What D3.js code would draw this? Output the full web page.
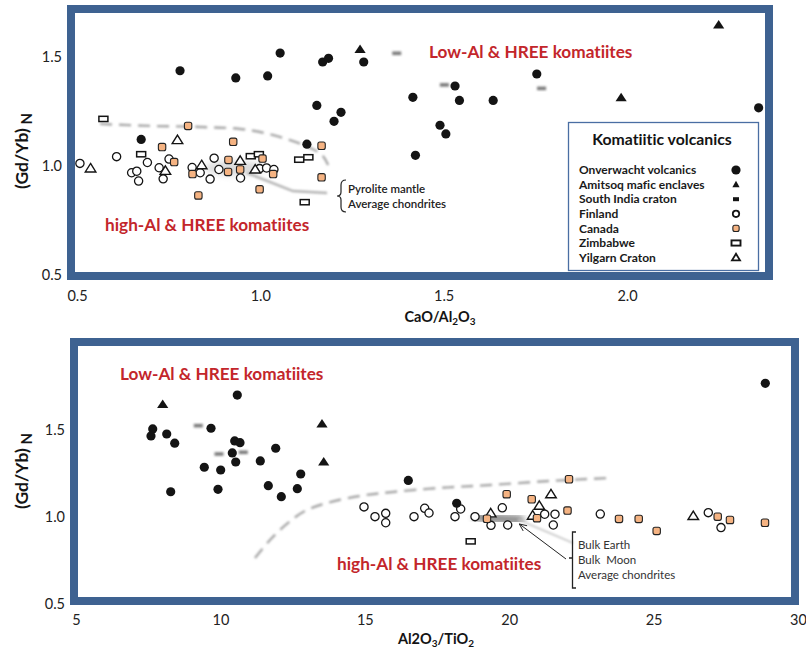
<!DOCTYPE html>
<html><head><meta charset="utf-8">
<script src="https://cdn.jsdelivr.net/npm/d3@7"></script>
<style>
body{margin:0;background:#fff;}
svg{display:block;font-family:Lato,"Open Sans",sans-serif;font-variant-ligatures:none;font-feature-settings:"liga" 0,"clig" 0;}
</style></head><body>
<svg id="chart" width="806" height="652"></svg>
<script>
// ---------- (Gd/Yb)N vs CaO/Al2O3 ----------
const onverwachtCa = [[0.675,1.122],[0.781,1.437],[0.933,1.404],[1.020,1.413],[1.054,1.518],[1.170,1.477],[1.186,1.494],[1.282,1.477],[1.154,1.278],[1.220,1.246],[1.201,1.205],[1.127,1.100],[1.416,1.315],[1.490,1.187],[1.506,1.147],[1.423,1.049],[1.531,1.367],[1.543,1.301],[1.635,1.301],[1.754,1.422],[2.359,1.267]];
const amitsoqCa = [[1.272,1.535],[1.984,1.313],[2.250,1.647]];
const southIndiaCa = [[1.372,1.517],[1.502,1.372],[1.767,1.356]];
const finlandCa = [[0.508,1.012],[0.608,1.043],[0.649,0.969],[0.663,0.976],[0.668,0.931],[0.692,1.016],[0.724,0.992],[0.735,0.941],[0.751,1.032],[0.814,0.993],[0.836,0.969],[0.863,0.940],[0.874,1.036],[0.887,0.984],[0.946,0.945],[0.998,0.988],[1.017,0.991],[1.037,0.984]];
const canadaCa = [[0.732,1.087],[0.765,1.018],[0.803,1.184],[0.815,0.963],[0.831,0.865],[0.913,1.028],[0.912,0.973],[0.926,1.111],[0.945,0.984],[1.006,1.034],[1.035,0.963],[0.998,0.893],[1.167,1.093],[1.167,0.948]];
const zimbabweCa = [[0.572,1.216],[0.675,1.054],[0.974,1.045],[0.996,1.054],[1.106,1.029],[1.131,1.040],[1.121,0.834]];
const yilgarnCa = [[0.537,0.989],[0.774,1.119],[0.741,0.978],[0.840,1.004],[0.945,1.024],[0.986,0.984]];
// mixing trends toward pyrolite / chondrite
const mixCurveCa = [[0.563,1.193],[0.699,1.184],[0.836,1.179],[0.945,1.170],[1.013,1.151],[1.081,1.119],[1.136,1.083],[1.168,1.051],[1.185,1.005]];
const mixDropCa = [[1.185,1.005],[1.185,0.716]];
const mixArrowCa = [[1.182,0.876],[1.089,0.885],[0.964,0.968]];

// ---------- (Gd/Yb)N vs Al2O3/TiO2 ----------
const onverwachtAl = [[10.585,1.701],[7.656,1.506],[7.597,1.466],[8.141,1.477],[8.418,1.424],[9.675,1.510],[10.495,1.437],[10.679,1.427],[10.412,1.368],[10.530,1.316],[11.915,1.395],[11.382,1.322],[9.442,1.286],[10.010,1.270],[12.781,1.247],[11.659,1.180],[12.663,1.163],[12.109,1.117],[9.917,1.159],[8.279,1.145],[16.506,1.210],[18.182,1.079],[28.868,1.768]];
const amitsoqAl = [[8.002,1.647],[13.518,1.535],[13.577,1.317]];
const southIndiaAl = [[9.235,1.525],[9.952,1.362],[10.793,1.372]];
const finlandAl = [[14.972,1.058],[15.353,1.002],[15.724,1.021],[15.724,0.967],[16.704,1.002],[17.074,1.050],[17.223,1.023],[18.123,1.002],[18.320,1.046],[18.816,1.002],[19.761,1.053],[19.370,0.952],[19.948,0.954],[21.229,1.016],[21.586,1.016],[21.527,0.954],[23.154,1.017],[26.894,1.025],[27.334,0.939]];
const canadaAl = [[19.231,0.990],[19.913,1.131],[20.779,1.102],[20.962,0.993],[22.019,1.037],[22.071,1.217],[23.802,0.989],[24.484,0.989],[25.107,0.920],[27.219,1.002],[27.645,0.983],[28.857,0.967]];
const zimbabweAl = [[18.667,0.860]];
const yilgarnAl = [[21.447,1.131],[21.042,1.065],[20.813,1.008],[19.359,1.021],[26.374,1.006]];
const mixCurveAl = [[11.198,0.764],[11.717,0.868],[12.341,0.966],[12.930,1.035],[13.691,1.081],[14.834,1.121],[15.976,1.144],[17.604,1.167],[19.335,1.184],[21.413,1.207],[23.421,1.224]];
const reservoirAl = [[18.92,1.000],[20.37,0.983]];

// axis ticks and labels
const ticksCaX = [0.5, 1.0, 1.5, 2.0];
const ticksAlX = [5, 10, 15, 20, 25, 30];
const ticksY = [0.5, 1.0, 1.5];
const legendNames = ["Onverwacht volcanics","Amitsoq mafic enclaves","South India craton","Finland","Canada","Zimbabwe","Yilgarn Craton"];
const legendKinds = ["onverwacht","amitsoq","india","finland","canada","zimbabwe","yilgarn"];

const BLUE = "#3e6291", RED = "#c3262b", ORANGE = "#f5b382", INK = "#141414";

const svg = d3.select("#chart");
const defs = svg.append("defs");
defs.append("filter").attr("id","soft").attr("x","-50%").attr("y","-50%").attr("width","200%").attr("height","200%")
  .append("feGaussianBlur").attr("stdDeviation", 1.1);
defs.append("filter").attr("id","haze").attr("x","-50%").attr("y","-50%").attr("width","200%").attr("height","200%")
  .append("feGaussianBlur").attr("stdDeviation", 3);
defs.append("clipPath").attr("id","clipTop").append("rect").attr("x",75).attr("y",13).attr("width",690).attr("height",259);
defs.append("clipPath").attr("id","clipBot").append("rect").attr("x",78).attr("y",346).attr("width",713).attr("height",251);

const tri = (w, h) => `M0,${-h*0.58}L${w},${h*0.42}L${-w},${h*0.42}Z`;

function mark(g, kind, legend) {
  const k = legend ? 0.85 : 1;
  switch (kind) {
    case "onverwacht":
      g.append("circle").attr("r", 4.6).attr("fill", INK); break;
    case "amitsoq":
      g.append("path").attr("d", legend ? tri(3.6, 6.5) : tri(5.6, 8.5)).attr("fill", INK); break;
    case "india":
      if (legend) g.append("rect").attr("x",-3).attr("y",-2).attr("width",6).attr("height",4).attr("fill",INK);
      else g.append("rect").attr("x",-4.5).attr("y",-1.8).attr("width",9).attr("height",3.6)
             .attr("fill","#444").attr("opacity",0.7).attr("filter","url(#soft)");
      break;
    case "finland":
      g.append("circle").attr("r", legend ? 3.2 : 4.1).attr("fill","#fff").attr("stroke",INK).attr("stroke-width", legend ? 1.8 : 1.3); break;
    case "canada":
      g.append("rect").attr("x",-3.7*k).attr("y",-3.7*k).attr("width",7.4*k).attr("height",7.4*k).attr("rx",2)
        .attr("fill",ORANGE).attr("stroke","#222").attr("stroke-width",1.1); break;
    case "zimbabwe":
      g.append("rect").attr("x",-4.5).attr("y",-2.6).attr("width",9).attr("height",5.2)
        .attr("fill","#fff").attr("stroke",INK).attr("stroke-width", legend ? 1.9 : 1.5); break;
    case "yilgarn":
      g.append("path").attr("d", legend ? tri(4, 6.5) : tri(5.3, 8.5)).attr("fill","#fff").attr("stroke",INK)
        .attr("stroke-width", legend ? 1.8 : 1.4).attr("stroke-linejoin","miter"); break;
  }
}

function drawSeries(g, pts, kind, x, y) {
  pts.forEach(p => mark(g.append("g").attr("transform", `translate(${x(p[0])},${y(p[1])})`), kind, false));
}

function frame(x0, y0, x1, y1) {
  svg.append("rect").attr("x", x0 + 4).attr("y", y0 + 4).attr("width", x1 - x0 - 8).attr("height", y1 - y0 - 8)
    .attr("fill","none").attr("stroke",BLUE).attr("stroke-width",8);
}

function yTitle(cx, cy) {
  const t = svg.append("text").attr("transform", `translate(${cx},${cy}) rotate(-90)`)
    .attr("text-anchor","middle").attr("font-weight",700).attr("font-size",17.5).attr("fill",INK);
  t.append("tspan").text("(Gd/Yb)");
  t.append("tspan").attr("font-size",15).attr("dy",4).text(" N");
}

// ================= upper panel =================
const xCa = d3.scaleLinear().domain([0.5, 2.0]).range([77, 627]);
const yCa = d3.scaleLinear().domain([0.5, 1.5]).range([275, 57]);
const upper = svg.append("g").attr("clip-path","url(#clipTop)");

// faint reference ticks
upper.selectAll(".yt").data(ticksY).join("line").attr("x1",75).attr("x2",82)
  .attr("y1",d=>yCa(d)).attr("y2",d=>yCa(d)).attr("stroke","#999").attr("stroke-width",1.5).attr("filter","url(#soft)");

// mixing trends
const lineCa = d3.line().x(d=>xCa(d[0])).y(d=>yCa(d[1])).curve(d3.curveCatmullRom);
upper.append("ellipse").attr("cx",xCa(0.93)).attr("cy",yCa(0.99)).attr("rx",30).attr("ry",7)
  .attr("fill","#c0c0c0").attr("opacity",0.6).attr("filter","url(#haze)");
upper.append("path").attr("d",lineCa(mixCurveCa)).attr("fill","none").attr("stroke","#a8a8a8")
  .attr("stroke-width",2.4).attr("stroke-dasharray","12,7").attr("filter","url(#soft)");
upper.append("path").attr("d",d3.line().x(d=>xCa(d[0])).y(d=>yCa(d[1]))(mixDropCa)).attr("fill","none").attr("stroke","#b0b0b0")
  .attr("stroke-width",2).attr("stroke-dasharray","9,5").attr("filter","url(#soft)");
upper.append("path").attr("d",d3.line().x(d=>xCa(d[0])).y(d=>yCa(d[1]))(mixArrowCa)).attr("fill","none").attr("stroke","#b4b4b4")
  .attr("stroke-width",2.4).attr("filter","url(#soft)");

drawSeries(upper, southIndiaCa, "india", xCa, yCa);
drawSeries(upper, finlandCa, "finland", xCa, yCa);
drawSeries(upper, zimbabweCa, "zimbabwe", xCa, yCa);
drawSeries(upper, yilgarnCa, "yilgarn", xCa, yCa);
drawSeries(upper, canadaCa, "canada", xCa, yCa);
drawSeries(upper, amitsoqCa, "amitsoq", xCa, yCa);
drawSeries(upper, onverwachtCa, "onverwacht", xCa, yCa);

// annotations
svg.append("text").attr("x",429).attr("y",58).attr("fill",RED).attr("font-weight",700).attr("font-size",17.2)
  .text("Low-Al & HREE komatiites");
svg.append("text").attr("x",105).attr("y",231).attr("fill",RED).attr("font-weight",700).attr("font-size",17.2)
  .text("high-Al & HREE komatiites");
svg.append("path").attr("d","M346,180 Q341,180 341,185 L341,192 Q341,196 337,196 Q341,196 341,200 L341,207 Q341,212 346,212")
  .attr("fill","none").attr("stroke","#222").attr("stroke-width",1.2);
svg.append("text").attr("x",348).attr("y",193).attr("font-size",11.5).attr("font-weight",600).attr("fill","#222").text("Pyrolite mantle");
svg.append("text").attr("x",348).attr("y",208).attr("font-size",11.5).attr("font-weight",600).attr("fill","#222").text("Average chondrites");

// legend
const lg = svg.append("g");
lg.append("rect").attr("x",568.5).attr("y",122.5).attr("width",190).attr("height",148)
  .attr("fill","#fff").attr("stroke","#4a6ea3").attr("stroke-width",1.3);
lg.append("text").attr("x",662).attr("y",145).attr("text-anchor","middle").attr("font-weight",700).attr("font-size",15.8)
  .attr("fill",INK).text("Komatiitic volcanics");
legendNames.forEach((name, i) => {
  const yy = 170 + i * 14.6;
  lg.append("text").attr("x",579).attr("y",yy + 4.2).attr("font-size",12).attr("font-weight",700).attr("fill","#1a1a1a").text(name);
  mark(lg.append("g").attr("transform",`translate(736,${yy})`), legendKinds[i], true);
});

frame(67, 5, 773, 280);

// axes (labels only; frame provides the boundary)
const axCaX = svg.append("g").attr("transform","translate(0,280)")
  .call(d3.axisBottom(xCa).tickValues(ticksCaX).tickFormat(d3.format(".1f")).tickSize(0).tickPadding(11));
const axCaY = svg.append("g").attr("transform","translate(66,0)")
  .call(d3.axisLeft(yCa).tickValues(ticksY).tickFormat(d3.format(".1f")).tickSize(0).tickPadding(4));
[axCaX, axCaY].forEach(a => { a.select(".domain").remove(); a.selectAll("text").attr("font-size",14.5).attr("fill","#222").attr("font-family","Lato,sans-serif"); });

const xt1 = svg.append("text").attr("x",440).attr("y",322).attr("text-anchor","middle").attr("font-weight",700).attr("font-size",14.5).attr("fill",INK);
xt1.append("tspan").text("CaO/Al");
xt1.append("tspan").attr("font-size",10).attr("dy",3).text("2");
xt1.append("tspan").attr("dy",-3).text("O");
xt1.append("tspan").attr("font-size",10).attr("dy",3).text("3");
yTitle(28, 151);

// ================= lower panel =================
const xAl = d3.scaleLinear().domain([5, 30]).range([76, 798]);
const yAl = d3.scaleLinear().domain([0.5, 1.5]).range([604, 430]);
const lower = svg.append("g").attr("clip-path","url(#clipBot)");

lower.selectAll(".yt").data(ticksY).join("line").attr("x1",78).attr("x2",88)
  .attr("y1",d=>yAl(d)).attr("y2",d=>yAl(d)).attr("stroke","#999").attr("stroke-width",1.5).attr("filter","url(#soft)");
lower.selectAll(".xt").data(ticksAlX.slice(1, 5)).join("line").attr("x1",d=>xAl(d)).attr("x2",d=>xAl(d))
  .attr("y1",584).attr("y2",597).attr("stroke","#ddd").attr("stroke-width",1.5).attr("filter","url(#soft)");

const lineAl = d3.line().x(d=>xAl(d[0])).y(d=>yAl(d[1])).curve(d3.curveCatmullRom);
lower.append("path").attr("d",lineAl(mixCurveAl)).attr("fill","none").attr("stroke","#a8a8a8")
  .attr("stroke-width",2.4).attr("stroke-dasharray","12,7").attr("filter","url(#soft)");
lower.append("path").attr("d",d3.line().x(d=>xAl(d[0])).y(d=>yAl(d[1]))(reservoirAl)).attr("fill","none")
  .attr("stroke","#6e6e6e").attr("stroke-width",9).attr("stroke-linecap","round").attr("opacity",0.85).attr("filter","url(#haze)");
lower.append("line").attr("x1",xAl(20.3)).attr("y1",yAl(0.985)).attr("x2",573).attr("y2",543)
  .attr("stroke","#c4c4c4").attr("stroke-width",1.6).attr("filter","url(#soft)");

drawSeries(lower, southIndiaAl, "india", xAl, yAl);
drawSeries(lower, finlandAl, "finland", xAl, yAl);
drawSeries(lower, zimbabweAl, "zimbabwe", xAl, yAl);
drawSeries(lower, yilgarnAl, "yilgarn", xAl, yAl);
drawSeries(lower, canadaAl, "canada", xAl, yAl);
drawSeries(lower, amitsoqAl, "amitsoq", xAl, yAl);
drawSeries(lower, onverwachtAl, "onverwacht", xAl, yAl);

svg.append("text").attr("x",120).attr("y",380).attr("fill",RED).attr("font-weight",700).attr("font-size",17.2)
  .text("Low-Al & HREE komatiites");
svg.append("text").attr("x",337).attr("y",570).attr("fill",RED).attr("font-weight",700).attr("font-size",17.2)
  .text("high-Al & HREE komatiites");

// reservoir bracket and arrow
svg.append("path").attr("d","M576,532 L572.5,532 L572.5,588 L576,588 M572.5,558 L569,558")
  .attr("fill","none").attr("stroke","#222").attr("stroke-width",1.3);
svg.append("line").attr("x1",566).attr("y1",559).attr("x2",xAl(20.35)).attr("y2",yAl(0.96))
  .attr("stroke","#222").attr("stroke-width",1);
(function arrowHead() {
  const tx = xAl(20.35), ty = yAl(0.96), ang = Math.atan2(559 - ty, 566 - tx);
  const L = 8, spread = 0.42;
  svg.append("path").attr("d",`M${tx + L*Math.cos(ang-spread)},${ty + L*Math.sin(ang-spread)} L${tx},${ty} L${tx + L*Math.cos(ang+spread)},${ty + L*Math.sin(ang+spread)}`)
    .attr("fill","none").attr("stroke","#222").attr("stroke-width",1);
})();
[["Bulk Earth",545],["Bulk\u00a0\u00a0Moon",560],["Average chondrites",575]].forEach(([t, yy]) =>
  svg.append("text").attr("x",578).attr("y",yy + 4).attr("font-size",11.5).attr("fill","#333").text(t));

frame(70, 338, 799, 605);

const axAlX = svg.append("g").attr("transform","translate(0,605)")
  .call(d3.axisBottom(xAl).tickValues(ticksAlX).tickSize(0).tickPadding(10));
const axAlY = svg.append("g").attr("transform","translate(69,0)")
  .call(d3.axisLeft(yAl).tickValues(ticksY).tickFormat(d3.format(".1f")).tickSize(0).tickPadding(4));
[axAlX, axAlY].forEach(a => { a.select(".domain").remove(); a.selectAll("text").attr("font-size",14.5).attr("fill","#222").attr("font-family","Lato,sans-serif"); });

const xt2 = svg.append("text").attr("x",436).attr("y",644).attr("text-anchor","middle").attr("font-weight",700).attr("font-size",14.5).attr("fill",INK);
xt2.append("tspan").text("Al2O");
xt2.append("tspan").attr("font-size",10).attr("dy",3).text("3");
xt2.append("tspan").attr("dy",-3).text("/TiO");
xt2.append("tspan").attr("font-size",10).attr("dy",3).text("2");
yTitle(28, 471);
</script>
</body></html>
